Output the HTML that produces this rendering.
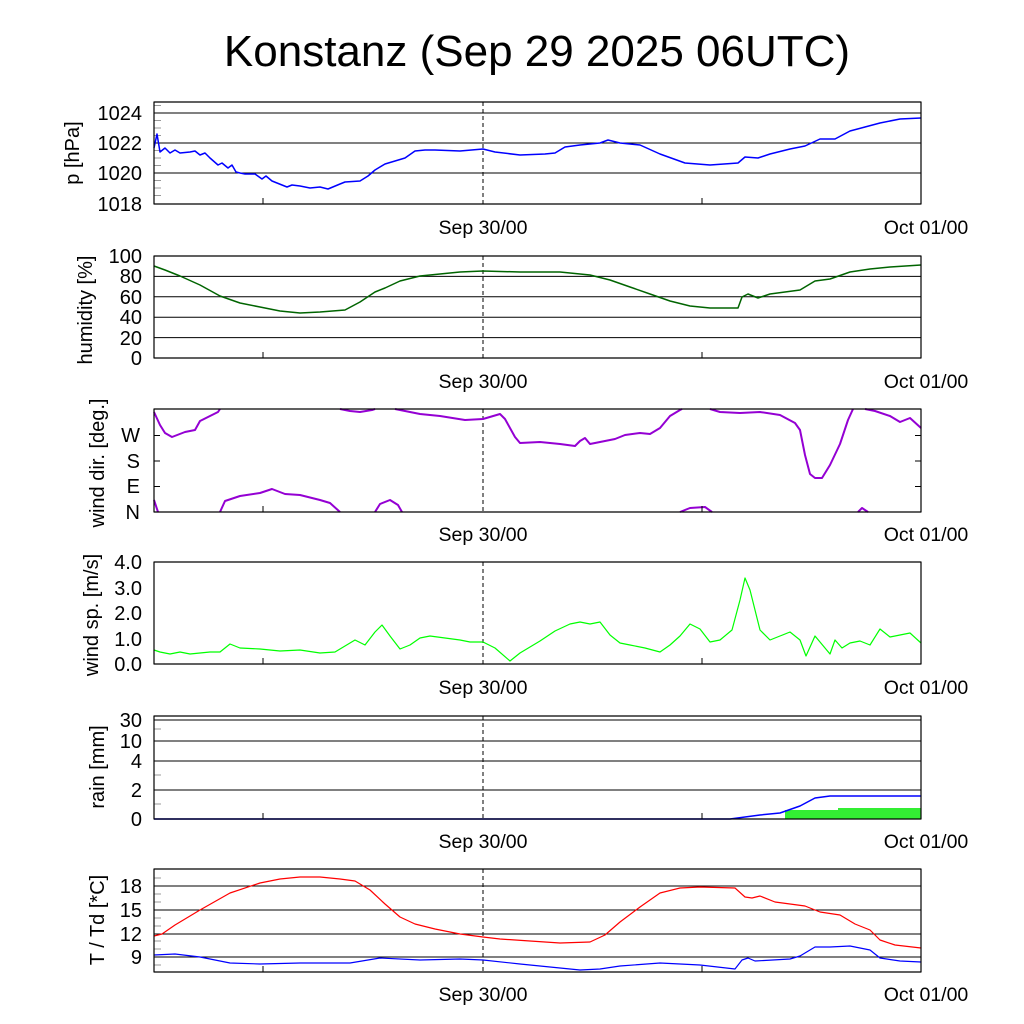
<!DOCTYPE html>
<html><head><style>body{margin:0;background:#fff}svg{display:block}</style></head><body>
<svg width="1024" height="1024" xmlns="http://www.w3.org/2000/svg" font-family="Liberation Sans, sans-serif">
<rect width="1024" height="1024" fill="#fff"/>
<text x="537" y="66" font-size="44" text-anchor="middle">Konstanz (Sep 29 2025 06UTC)</text>
<g fill="none" stroke-linejoin="round">
<g stroke="#000" stroke-width="1">
<line x1="154" y1="113" x2="921" y2="113"/><line x1="154" y1="143" x2="921" y2="143"/><line x1="154" y1="173" x2="921" y2="173"/>
<line x1="154" y1="276.4" x2="921" y2="276.4"/><line x1="154" y1="296.8" x2="921" y2="296.8"/><line x1="154" y1="317.2" x2="921" y2="317.2"/><line x1="154" y1="337.6" x2="921" y2="337.6"/>
<line x1="154" y1="720" x2="921" y2="720"/><line x1="154" y1="741" x2="921" y2="741"/><line x1="154" y1="761" x2="921" y2="761"/><line x1="154" y1="790" x2="921" y2="790"/>
<line x1="154" y1="886" x2="921" y2="886"/><line x1="154" y1="910" x2="921" y2="910"/><line x1="154" y1="934" x2="921" y2="934"/><line x1="154" y1="957" x2="921" y2="957"/>
<line x1="483" y1="102" x2="483" y2="204" stroke-dasharray="4,3"/>
<line x1="483" y1="256" x2="483" y2="358" stroke-dasharray="4,3"/>
<line x1="483" y1="409" x2="483" y2="512" stroke-dasharray="4,3"/>
<line x1="483" y1="562" x2="483" y2="664" stroke-dasharray="4,3"/>
<line x1="483" y1="716" x2="483" y2="819" stroke-dasharray="4,3"/>
<line x1="483" y1="869" x2="483" y2="972" stroke-dasharray="4,3"/>
</g>
<g stroke="#999">
<path d="M154,105.5h7M154,120.5h7M154,128h7M154,135.5h7M154,150.5h7M154,158h7M154,165.5h7M154,180.5h7M154,188h7M154,195.5h7"/>
<path d="M154,729h7M154,775h7M154,804h7"/>
<path d="M154,878h7M154,894h7M154,902h7M154,918h7M154,926h7M154,941h7M154,949h7M154,965h7"/>
</g>
<polyline stroke="#0000ff" stroke-width="1.5" points="154,148 157,134 160,152 165,148 170,153 175,150 180,153 190,152 195,151 200,155 205,153 210,158 218,165 222,163 228,168 232,165 236,172 240,173 245,174 255,174 262,179 266,176 272,181 287,187 292,185 300,186 310,188 320,187 328,189 340,184 345,182 360,181 368,176 375,170 385,164 395,161 405,158 415,151 425,150 435,150 460,151 483,149 495,152 520,155 545,154 555,153 565,147 580,145 600,143 608,140 620,143 640,145 660,154 685,163 710,165 738,163 745,157 758,158 770,154 790,149 805,146 820,139 835,139 850,131 865,127 880,123 900,119 921,118"/>
<polyline stroke="#006400" stroke-width="1.5" points="154,266 165,270 180,276 200,285 220,296 240,303 260,307 280,311 300,313 320,312 345,310 360,302 375,292 385,288 400,281 420,276 440,274 460,272 483,271 520,272 560,272 590,275 610,280 630,287 650,294 670,301 690,306 710,308 738,308 742,297 748,294 758,298 770,294 800,290 815,281 830,279 850,272 870,269 890,267 921,265"/>
<g stroke="#9400d3" stroke-width="2">
<polyline points="154,412 160,425 165,433 172,437 185,432 195,430 200,421 210,416 218,412 220,409"/>
<polyline points="340,409 350,411 360,412 372,410 375,409"/>
<polyline points="395,409 420,414 440,416 465,420 483,419 500,414 505,419 515,437 520,443 540,442 560,444 575,446 580,441 585,438 590,444 600,442 615,439 625,435 640,433 650,434 660,428 670,416 680,410 682,409"/>
<polyline points="710,409 720,412 740,413 760,412 780,415 795,423 800,430 805,455 810,474 815,478 822,478 830,465 840,444 848,420 853,409"/>
<polyline points="865,409 875,411 890,416 900,422 910,418 921,428"/>
<polyline points="154,500 158,512"/>
<polyline points="220,512 225,501 240,496 260,493 272,489 285,494 300,495 320,500 330,503 340,512"/>
<polyline points="375,512 380,504 390,500 398,505 402,512"/>
<polyline points="680,512 690,508 705,507 712,512"/>
<polyline points="858,512 862,508 868,512"/>
</g>
<polyline stroke="#00ff00" stroke-width="1.2" points="154,650 160,652 170,654 180,652 190,654 200,653 210,652 220,652 230,644 240,648 260,649 280,651 300,650 320,653 335,652 345,646 355,640 365,645 375,632 382,625 390,636 400,649 410,645 420,638 430,636 445,638 460,640 470,642 483,642 495,648 510,661 520,653 540,641 555,631 570,624 580,622 590,624 600,622 610,635 620,643 630,645 645,648 660,652 670,645 680,636 690,624 700,629 710,642 720,640 732,630 740,600 745,578 750,590 760,630 770,640 780,636 790,632 800,640 806,656 815,636 825,648 830,654 835,640 842,648 850,643 860,641 870,645 880,629 890,637 900,635 910,633 921,643"/>
<rect x="785" y="810" width="53" height="9" fill="#33ee33" stroke="none"/>
<rect x="838" y="808" width="83" height="11" fill="#33ee33" stroke="none"/>
<polyline stroke="#0000ff" stroke-width="1.5" points="154,819 730,819 760,815 780,813 800,806 815,798 830,796 921,796"/>
<polyline stroke="#ff0000" stroke-width="1.2" points="154,936 162,934 175,925 200,910 230,893 260,883 280,879 300,877 320,877 340,879 355,881 370,890 385,904 400,917 415,924 435,929 460,934 483,937 500,939 530,941 560,943 590,942 605,935 620,922 640,907 660,893 680,888 700,887 735,888 745,897 752,898 760,896 775,902 790,904 805,906 820,912 840,915 855,924 870,930 880,940 895,945 921,948"/>
<polyline stroke="#0000ff" stroke-width="1.2" points="154,955 175,954 200,957 230,963 260,964 300,963 350,963 380,958 420,960 460,959 483,960 520,964 560,968 580,970 600,969 620,966 660,963 700,965 735,969 742,960 748,958 755,961 790,959 800,956 815,947 830,947 850,946 870,950 880,958 900,961 921,962"/>
<g stroke="#000" stroke-width="1.2">
<rect x="154" y="102" width="767" height="102"/>
<rect x="154" y="256" width="767" height="102"/>
<rect x="154" y="409" width="767" height="103"/>
<rect x="154" y="562" width="767" height="102"/>
<rect x="154" y="716" width="767" height="103"/>
<rect x="154" y="869" width="767" height="103"/>
</g>
<g stroke="#000">
<path d="M263,204v-6M702,204v-6M263,358v-6M702,358v-6M263,512v-6M702,512v-6M263,664v-6M702,664v-6M263,819v-6M702,819v-6M263,972v-6M702,972v-6"/>
<path d="M154,435.5h6M154,461h6M154,486.5h6M921,435.5h-6M921,461h-6M921,486.5h-6"/>
</g>
</g>
<g font-size="20" text-anchor="end">
<text x="142" y="120">1024</text><text x="142" y="150">1022</text><text x="142" y="180">1020</text><text x="142" y="211">1018</text>
<text x="142" y="263">100</text><text x="142" y="283">80</text><text x="142" y="304">60</text><text x="142" y="324">40</text><text x="142" y="345">20</text><text x="142" y="365">0</text>
<text x="140" y="442">W</text><text x="140" y="468">S</text><text x="140" y="493">E</text><text x="140" y="519">N</text>
<text x="142" y="569">4.0</text><text x="142" y="595">3.0</text><text x="142" y="620">2.0</text><text x="142" y="646">1.0</text><text x="142" y="671">0.0</text>
<text x="142" y="727">30</text><text x="142" y="748">10</text><text x="142" y="768">4</text><text x="142" y="797">2</text><text x="142" y="826">0</text>
<text x="142" y="893">18</text><text x="142" y="917">15</text><text x="142" y="941">12</text><text x="142" y="964">9</text>
</g>
<g font-size="19.5" text-anchor="middle">
<text x="483" y="234">Sep 30/00</text><text x="926" y="234">Oct 01/00</text>
<text x="483" y="388">Sep 30/00</text><text x="926" y="388">Oct 01/00</text>
<text x="483" y="541">Sep 30/00</text><text x="926" y="541">Oct 01/00</text>
<text x="483" y="694">Sep 30/00</text><text x="926" y="694">Oct 01/00</text>
<text x="483" y="848">Sep 30/00</text><text x="926" y="848">Oct 01/00</text>
<text x="483" y="1001">Sep 30/00</text><text x="926" y="1001">Oct 01/00</text>
</g>
<g font-size="20" text-anchor="middle">
<text transform="translate(79,153) rotate(-90)">p [hPa]</text>
<text transform="translate(92,310) rotate(-90)">humidity [%]</text>
<text transform="translate(104,463) rotate(-90)">wind dir. [deg.]</text>
<text transform="translate(98,615) rotate(-90)">wind sp. [m/s]</text>
<text transform="translate(104,767) rotate(-90)">rain [mm]</text>
<text transform="translate(104,920) rotate(-90)">T / Td [*C]</text>
</g>
</svg>
</body></html>
